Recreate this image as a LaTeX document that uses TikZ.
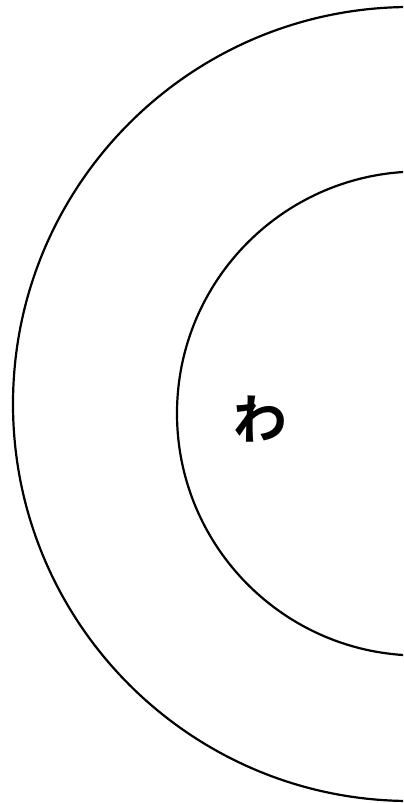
\documentclass[tikz,border=0pt]{standalone}
\usepackage{fontspec}
\newfontfamily\cjk{Noto Sans CJK JP Bold}
\begin{document}
\begin{tikzpicture}[x=1bp,y=-1bp,
  ring/.style={draw=black,line width=2.2bp},
  label/.style={font=\cjk\fontsize{54}{64}\selectfont,inner sep=0pt}]
\useasboundingbox (0,0) rectangle (403,803);
\fill[white] (0,0) rectangle (403,803);
\begin{scope}
\clip (0,0) rectangle (403,803);
\coordinate (co) at (410,404);
\coordinate (ci) at (419,413.5);
\draw[ring] (co) circle[radius=397bp];
\draw[ring] (ci) circle[radius=242bp];
\end{scope}
\node[label] (wa) at (260,419) {わ};
\end{tikzpicture}
\end{document}
